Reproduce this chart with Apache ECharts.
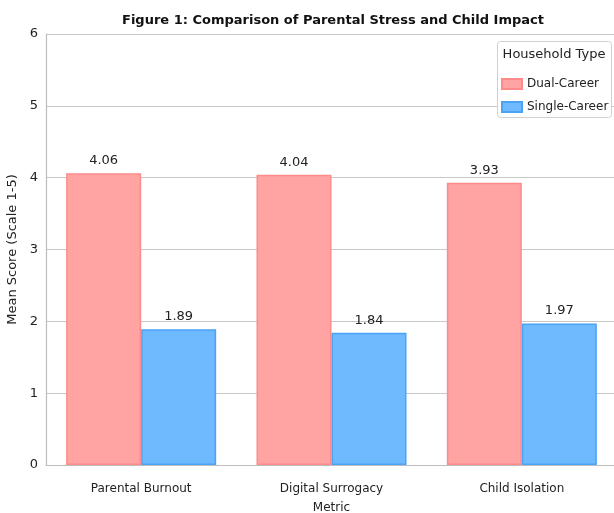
<!DOCTYPE html>
<html>
<head>
<meta charset="utf-8">
<script src="https://cdn.jsdelivr.net/npm/echarts@6/dist/echarts.min.js"></script>
<style>
  html, body { margin: 0; padding: 0; background: #fff; }
  #chart { width: 614px; height: 513px; }
</style>
</head>
<body>
<div id="chart"></div>
<script>
const categories = ['Parental Burnout', 'Digital Surrogacy\nMetric', 'Child Isolation']
const dualCareer = [4.06, 4.04, 3.93]
const singleCareer = [1.89, 1.84, 1.97]
const yTicks = [0, 1, 2, 3, 4, 5, 6]

const font = '"DejaVu Sans", sans-serif'

const chart = echarts.init(document.getElementById('chart'))

const barSeries = (name, data, fill, edge) => ({
  name,
  type: 'bar',
  data,
  barWidth: 75,
  barGap: '0%',
  itemStyle: { color: fill, borderColor: edge, borderWidth: 1.5 },
  label: {
    show: true,
    position: 'top',
    distance: 6,
    color: '#222',
    fontFamily: font,
    fontSize: 13,
    formatter: p => p.value.toFixed(2)
  }
})

chart.setOption({
  animation: false,
  graphic: [
    {
      type: 'text',
      x: 333,
      y: 21,
      style: {
        text: 'Figure 1: Comparison of Parental Stress and Child Impact',
        align: 'center',
        verticalAlign: 'middle',
        font: 'bold 13px "DejaVu Sans", sans-serif',
        fill: '#111'
      }
    },
    {
      type: 'rect',
      shape: { x: 497.5, y: 41.5, width: 114, height: 76, r: 3 },
      style: { fill: 'rgba(255,255,255,0.85)', stroke: '#d0d0d0', lineWidth: 1 },
      z: 5
    },
    {
      type: 'text',
      x: 554,
      y: 55,
      z: 6,
      style: {
        text: 'Household Type',
        align: 'center',
        verticalAlign: 'middle',
        font: '13px "DejaVu Sans", sans-serif',
        fill: '#222'
      }
    }
  ],
  legend: {
    orient: 'vertical',
    left: 501,
    top: 78,
    padding: 0,
    itemWidth: 20,
    itemHeight: 10,
    itemGap: 11,
    icon: 'rect',
    z: 10,
    textStyle: { fontFamily: font, fontSize: 12, color: '#222' },
    data: ['Dual-Career', 'Single-Career']
  },
  grid: { left: 46, right: -3, top: 34, bottom: 48, outerBoundsMode: 'none', containLabel: false },
  xAxis: {
    type: 'category',
    data: categories,
    axisLine: { lineStyle: { color: '#bdbdbd', width: 1.2 } },
    axisTick: { show: false },
    axisLabel: { color: '#222', fontFamily: font, fontSize: 12, margin: 14, lineHeight: 19 }
  },
  yAxis: {
    type: 'value',
    min: 0,
    max: 6,
    interval: 1,
    name: 'Mean Score (Scale 1-5)',
    nameLocation: 'middle',
    nameGap: 21,
    nameTextStyle: { fontFamily: font, fontSize: 13, color: '#222' },
    axisLine: { show: true, lineStyle: { color: '#bdbdbd', width: 1.2 } },
    axisTick: { show: false },
    axisLabel: {
      color: '#222',
      fontFamily: font,
      fontSize: 13,
      margin: 8,
      formatter: v => yTicks.includes(v) ? String(v) : ''
    },
    splitLine: { lineStyle: { color: '#c8c8c8', width: 1 } }
  },
  series: [
    barSeries('Dual-Career', dualCareer, '#ffa3a3', '#ff8a8a'),
    barSeries('Single-Career', singleCareer, '#6fb9ff', '#4aa3f5')
  ]
})
</script>
</body>
</html>
